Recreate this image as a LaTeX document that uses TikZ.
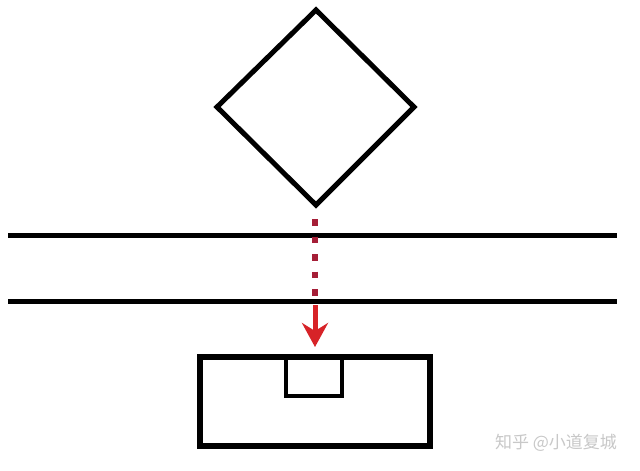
\documentclass[tikz,border=0pt]{standalone}
\usepackage{fontspec}
\newfontfamily\cjk{Noto Sans CJK SC}
\usetikzlibrary{arrows.meta}
\definecolor{dotred}{RGB}{165,30,55}
\definecolor{arrred}{RGB}{215,35,40}
\definecolor{wm}{RGB}{200,200,200}
\tikzset{
  thick line/.style={line width=5pt, black},
  box/.style={line width=6pt, black},
  inner box/.style={line width=3.5pt, black},
}
\begin{document}
\begin{tikzpicture}[x=1pt,y=-1pt]
\fill[white] (0,0) rectangle (640,471);
\useasboundingbox (0,0) rectangle (640,471);
% diamond
\coordinate (dt) at (316,10);
\coordinate (dr) at (414,107);
\coordinate (db) at (316,205);
\coordinate (dl) at (217,107);
\draw[thick line, line join=miter] (dt) -- (dr) -- (db) -- (dl) -- cycle;
% horizontal lines
\coordinate (l1a) at (8,235); \coordinate (l1b) at (617,235);
\coordinate (l2a) at (8,301); \coordinate (l2b) at (617,301);
\draw[thick line] (l1a) -- (l1b);
\draw[thick line] (l2a) -- (l2b);
% dotted path
\coordinate (ds) at (315,219);
\coordinate (de) at (315,298);
\draw[dotred, line width=6.5pt, dash pattern=on 6.5pt off 11pt] (ds) -- (de);
% arrow
\coordinate (as) at (315,305);
\coordinate (ae) at (315,347);
\draw[arrred, line width=5pt, -{Stealth[length=24pt,width=26pt,inset=8pt]}] (as) -- (ae);
% boxes
\coordinate (b1) at (200,357);
\coordinate (b2) at (430,446);
\draw[box] (b1) rectangle (b2);
\coordinate (i1) at (286,357);
\coordinate (i2) at (342,396);
\draw[inner box] (i1) rectangle (i2);
% watermark
\node[wm, font=\cjk\fontsize{17}{17}\selectfont, anchor=center] (wmk) at (556,443) {知乎 @小道复城};
\end{tikzpicture}
\end{document}
